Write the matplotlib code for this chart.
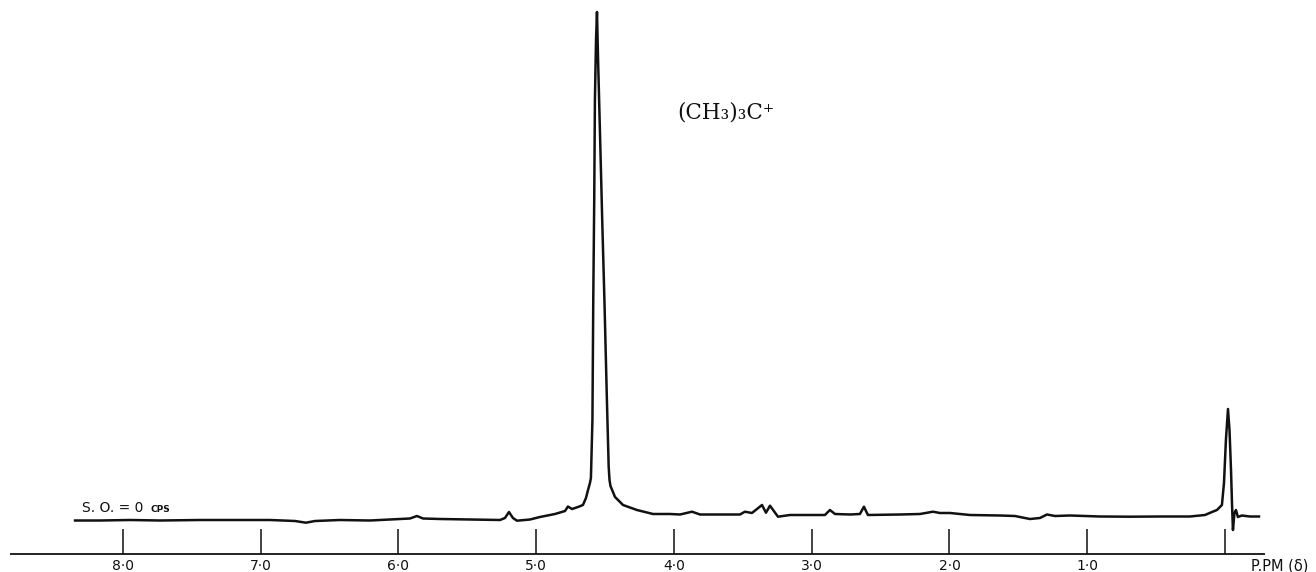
import matplotlib
matplotlib.use("Agg")
import matplotlib.pyplot as plt

# Spectrum trace: chemical shift (ppm) and signal (arbitrary units, baseline ~0)
shift_ppm = [8.348, 8.167, 7.949, 7.731, 7.441, 7.151, 6.933, 6.751, 6.672, 6.606,
             6.425, 6.207, 5.989, 5.917, 5.866, 5.822, 5.699, 5.481, 5.263, 5.227,
             5.198, 5.169, 5.140, 5.045, 4.973, 4.864, 4.791, 4.770, 4.740, 4.697,
             4.661, 4.639, 4.624, 4.610, 4.603, 4.592, 4.586, 4.579, 4.574, 4.566,
             4.559, 4.551, 4.534, 4.521, 4.505, 4.487, 4.474, 4.468, 4.461,
             4.428, 4.370, 4.269, 4.152, 4.029, 3.956, 3.869, 3.811, 3.666, 3.521,
             3.485, 3.434, 3.361, 3.332, 3.303, 3.245, 3.158, 3.013, 2.904, 2.868,
             2.831, 2.722, 2.650, 2.621, 2.592, 2.359, 2.214, 2.120, 2.069, 1.996,
             1.851, 1.633, 1.525, 1.416, 1.343, 1.292, 1.234, 1.125, 0.907, 0.690,
             0.472, 0.254, 0.145, 0.094, 0.058, 0.022, 0.007, -0.007, -0.022, -0.033,
             -0.044, -0.051, -0.058, -0.069, -0.080, -0.094, -0.123, -0.181, -0.247]
signal = [-0.5, -0.5, 0.0, -0.5, 0.0, 0.0, 0.0, -1.0, -2.7, -1.0,
          0.0, -0.5, 1.0, 1.5, 4.0, 1.5, 1.0, 0.5, 0.0, 2.0,
          8.0, 2.0, -0.7, 0.5, 3.0, 6.0, 9.0, 13.5, 11.0, 13.0,
          15.0, 22.0, 30.0, 37.0, 42.0, 100.0, 220.0, 320.0, 420.0, 480.0,
          508.0, 460.0, 370.0, 300.0, 220.0, 120.0, 53.0, 40.0, 34.0,
          23.0, 15.0, 10.0, 6.0, 6.0, 5.5, 8.3, 5.5, 5.5, 5.5,
          8.3, 7.0, 15.0, 7.3, 14.3, 3.3, 5.0, 5.0, 5.0, 10.0,
          6.0, 5.5, 6.0, 13.3, 5.0, 5.5, 6.0, 8.3, 7.0, 7.0,
          5.0, 4.5, 4.0, 1.0, 2.0, 5.5, 4.0, 4.5, 3.5, 3.3,
          3.5, 3.5, 5.0, 8.0, 10.0, 15.0, 37.0, 80.0, 111.0, 90.0,
          50.0, 17.0, -10.0, 7.0, 10.0, 3.0, 4.5, 3.5, 3.5]

tick_ppm = [8.0, 7.0, 6.0, 5.0, 4.0, 3.0, 2.0, 1.0, 0.0]
tick_labels = ["8·0", "7·0", "6·0", "5·0", "4·0", "3·0", "2·0", "1·0", ""]

fig = plt.figure(figsize=(13.16, 5.72), dpi=100)
ax = fig.add_axes([0, 0, 1, 1])
ax.set_xlim(8.893, -0.661)
ax.set_ylim(-52, 520)
ax.axis("off")

ink = "#111111"
ax.plot(shift_ppm, signal, color=ink, lw=1.8, solid_joinstyle="round")

# baseline axis with ticks
axis_y = -34
ax.hlines(axis_y, 8.82, -0.29, color=ink, lw=1.3)
ax.vlines(tick_ppm, axis_y, -9, color=ink, lw=1.1)
for t, lab in zip(tick_ppm, tick_labels):
    ax.text(t, -46, lab, ha="center", va="center", fontsize=10,
            family="DejaVu Sans", color=ink)

ax.text(8.30, 12, "S. O. = 0", ha="left", va="center", fontsize=10,
        family="DejaVu Sans", color=ink)
ax.text(7.80, 11, "CPS", ha="left", va="center", fontsize=6.5,
        family="DejaVu Sans", weight="bold", color=ink)

ax.text(3.978, 408, "(CH₃)₃C⁺", ha="left", va="center", fontsize=15.5,
        family="DejaVu Serif", color=ink)

ax.text(-0.19, -46, "P.PM (δ)", ha="left", va="center", fontsize=10.5,
        family="DejaVu Sans", color=ink)

fig.savefig("out.png", dpi=100, facecolor="white")
